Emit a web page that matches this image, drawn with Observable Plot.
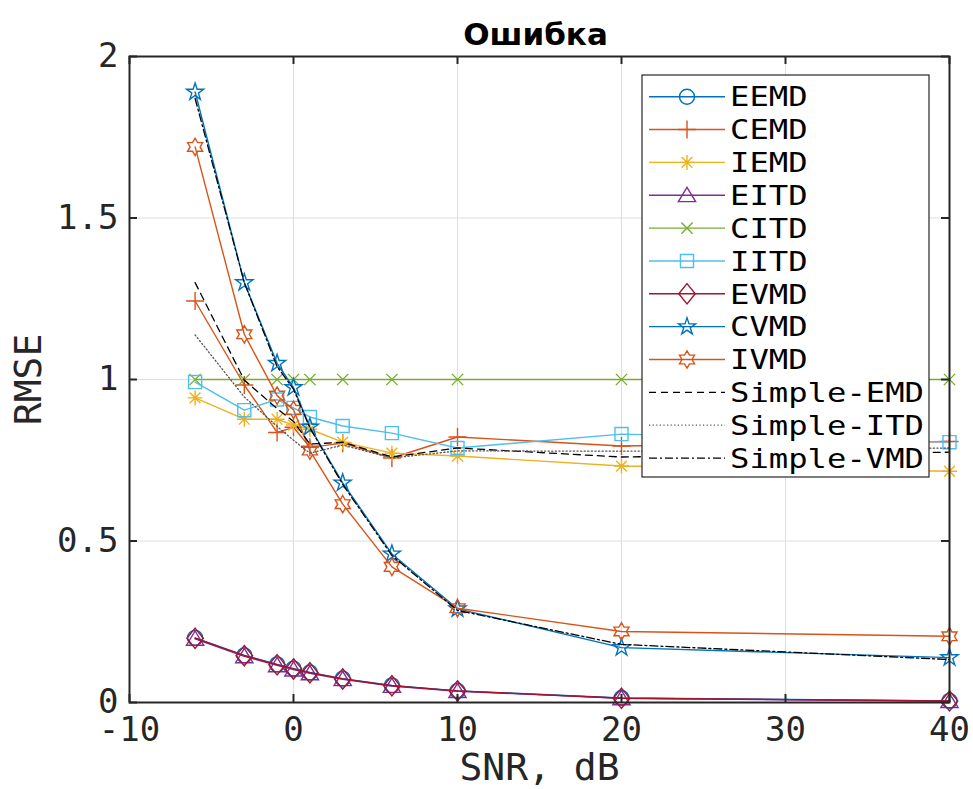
<!DOCTYPE html>
<html>
<head>
<meta charset="utf-8">
<script src="https://cdn.jsdelivr.net/npm/d3@7"></script>
<script src="https://cdn.jsdelivr.net/npm/@observablehq/plot@0.6"></script>
<style>
  html, body { margin: 0; padding: 0; background: #fff; }
  #wrap { position: relative; width: 973px; height: 789px; overflow: hidden; }
  #legend { position: absolute; left: 0; top: 0; }
</style>
</head>
<body>
<div id="wrap"></div>
<script>
// ---- data ----
const snr = [-6, -3, -1, 0, 1, 3, 6, 10, 20, 40];
const EEMD = [0.200, 0.146, 0.118, 0.105, 0.093, 0.074, 0.053, 0.036, 0.014, 0.005];
const CEMD = [1.243, 0.983, 0.836, 0.852, 0.790, 0.803, 0.757, 0.822, 0.794, 0.808];
const IEMD = [0.943, 0.877, 0.877, 0.859, 0.846, 0.806, 0.772, 0.763, 0.732, 0.716];
const EITD = [0.197, 0.143, 0.115, 0.102, 0.090, 0.072, 0.051, 0.035, 0.013, 0.004];
const CITD = [1.0, 1.0, 1.0, 1.0, 1.0, 1.0, 1.0, 1.0, 1.0, 1.0];
const IITD = [0.992, 0.905, 0.938, 0.912, 0.884, 0.856, 0.834, 0.788, 0.831, 0.806];
const EVMD = [0.199, 0.145, 0.117, 0.104, 0.092, 0.073, 0.052, 0.036, 0.013, 0.005];
const CVMD = [1.890, 1.300, 1.050, 0.975, 0.853, 0.680, 0.460, 0.290, 0.170, 0.139];
const IVMD = [1.720, 1.140, 0.950, 0.906, 0.780, 0.614, 0.420, 0.292, 0.220, 0.205];
const SimpleEMD = [1.300, 0.998, 0.910, 0.870, 0.800, 0.806, 0.760, 0.788, 0.760, 0.775];
const SimpleITD = [1.138, 0.946, 0.855, 0.812, 0.772, 0.797, 0.757, 0.779, 0.778, 0.788];
const SimpleVMD = [1.870, 1.300, 1.040, 0.970, 0.850, 0.675, 0.455, 0.285, 0.180, 0.133];

const seriesNames = ["EEMD", "CEMD", "IEMD", "EITD", "CITD", "IITD", "EVMD", "CVMD", "IVMD",
                     "Simple-EMD", "Simple-ITD", "Simple-VMD"];
const seriesValues = [EEMD, CEMD, IEMD, EITD, CITD, IITD, EVMD, CVMD, IVMD, SimpleEMD, SimpleITD, SimpleVMD];

const xTicks = [-10, 0, 10, 20, 30, 40];
const yTicks = [0, 0.5, 1, 1.5, 2];
const yTickLabels = ["0", "0.5", "1", "1.5", "2"];
const titleText = "Ошибка";
const xLabel = "SNR, dB";
const yLabel = "RMSE";

// ---- styles ----
function sym(fn) { return { draw(ctx, size) { const r = Math.sqrt(size / Math.PI); fn(ctx, r); } }; }
function star(ctx, n, R, ri) {
  for (let i = 0; i < 2 * n; i++) {
    const a = -Math.PI / 2 + i * Math.PI / n;
    const rr = i % 2 === 0 ? R : ri;
    const px = rr * Math.cos(a), py = rr * Math.sin(a);
    if (i === 0) ctx.moveTo(px, py); else ctx.lineTo(px, py);
  }
  ctx.closePath();
}
const SYM = {
  circle: sym((c, r) => { c.moveTo(r, 0); c.arc(0, 0, r, 0, 2 * Math.PI); c.closePath(); }),
  plus: sym((c, r) => { const a = r * 1.2; c.moveTo(-a, 0); c.lineTo(a, 0); c.moveTo(0, -a); c.lineTo(0, a); }),
  asterisk: sym((c, r) => { const a = r * 1.0, d = r * 0.72;
    c.moveTo(-a, 0); c.lineTo(a, 0); c.moveTo(0, -a); c.lineTo(0, a);
    c.moveTo(-d, -d); c.lineTo(d, d); c.moveTo(-d, d); c.lineTo(d, -d); }),
  triangle: sym((c, r) => { c.moveTo(0, -r * 1.05); c.lineTo(r * 1.15, r * 0.85); c.lineTo(-r * 1.15, r * 0.85); c.closePath(); }),
  times: sym((c, r) => { const d = r * 0.75; c.moveTo(-d, -d); c.lineTo(d, d); c.moveTo(-d, d); c.lineTo(d, -d); }),
  square: sym((c, r) => { const a = r * 0.87; c.moveTo(-a, -a); c.lineTo(a, -a); c.lineTo(a, a); c.lineTo(-a, a); c.closePath(); }),
  diamond: sym((c, r) => { c.moveTo(0, -r * 1.35); c.lineTo(r * 1.1, 0); c.lineTo(0, r * 1.35); c.lineTo(-r * 1.1, 0); c.closePath(); }),
  pentagram: sym((c, r) => star(c, 5, r * 1.2, r * 1.2 * 0.382)),
  hexagram: sym((c, r) => star(c, 6, r * 1.16, r * 1.16 / Math.sqrt(3)))
};
const seriesStyle = [
  { color: "#0072BD", marker: "circle", dash: null },
  { color: "#D95319", marker: "plus", dash: null },
  { color: "#EDB120", marker: "asterisk", dash: null },
  { color: "#7E2F8E", marker: "triangle", dash: null },
  { color: "#77AC30", marker: "times", dash: null },
  { color: "#4DBEEE", marker: "square", dash: null },
  { color: "#A2142F", marker: "diamond", dash: null },
  { color: "#0072BD", marker: "pentagram", dash: null },
  { color: "#D95319", marker: "hexagram", dash: null },
  { color: "#000000", marker: null, dash: "7,5" },
  { color: "#555555", marker: null, dash: "1.2,2.4" },
  { color: "#000000", marker: null, dash: "8,3,2,3" }
];
const markerR = 7.5;

// ---- table ----
const rows = [];
seriesNames.forEach((name, i) => seriesValues[i].forEach((v, j) => rows.push({ series: name, x: snr[j], y: v })));

const W = 973, H = 789, mL = 129, mR = 24, mT = 56, mB = 87;
const frameW = W - mL - mR, frameH = H - mT - mB;
const axisColor = "#262626";
const mono = "'DejaVu Sans Mono', monospace";

const marks = [
  Plot.gridX(xTicks, { stroke: "#dedede", strokeOpacity: 1, strokeWidth: 1 }),
  Plot.gridY(yTicks, { stroke: "#dedede", strokeOpacity: 1, strokeWidth: 1 })
];
seriesNames.forEach((name, i) => {
  const st = seriesStyle[i];
  const data = rows.filter(d => d.series === name);
  marks.push(Plot.line(data, { x: "x", y: "y", stroke: st.color, strokeWidth: st.marker ? 1.4 : 1.3,
    strokeDasharray: st.dash || undefined }));
  if (st.marker) {
    marks.push(Plot.dot(data, { x: "x", y: "y", symbol: SYM[st.marker], r: markerR, stroke: st.color,
      fill: "none", strokeWidth: 1.4 }));
  }
});
marks.push(
  Plot.frame({ stroke: axisColor, strokeWidth: 2 }),
  Plot.tickX(xTicks, { x: d => d, insetTop: frameH - 8, stroke: axisColor, strokeWidth: 2 }),
  Plot.tickX(xTicks, { x: d => d, insetBottom: frameH - 8, stroke: axisColor, strokeWidth: 2 }),
  Plot.tickY(yTicks, { y: d => d, insetRight: frameW - 8, stroke: axisColor, strokeWidth: 2 }),
  Plot.tickY(yTicks, { y: d => d, insetLeft: frameW - 8, stroke: axisColor, strokeWidth: 2 }),
  Plot.axisX(xTicks, { anchor: "bottom", tickSize: 0, tickPadding: 14, label: null,
    tickFormat: d => String(d), fontSize: 34, fill: axisColor }),
  Plot.axisY(yTicks, { anchor: "left", tickSize: 0, tickPadding: 11, label: null,
    tickFormat: d => yTickLabels[yTicks.indexOf(d)], fontSize: 34, fill: axisColor }),
  Plot.text([titleText], { frameAnchor: "top", lineAnchor: "bottom", dy: -12, dx: -4, fontSize: 31,
    fontWeight: "bold", fontFamily: "'DejaVu Sans', sans-serif", fill: "#000" }),
  Plot.text([xLabel], { frameAnchor: "bottom", textAnchor: "middle", lineAnchor: "middle", dy: 65, fontSize: 38, fill: axisColor }),
  Plot.text([yLabel], { frameAnchor: "left", textAnchor: "middle", lineAnchor: "middle", dx: -101, rotate: -90, fontSize: 38, fill: axisColor })
);

const chart = Plot.plot({
  width: W, height: H,
  marginLeft: mL, marginRight: mR, marginTop: mT, marginBottom: mB,
  x: { domain: [-10, 40], label: null },
  y: { domain: [0, 2], label: null },
  style: { fontFamily: mono, background: "#fff", color: axisColor, overflow: "visible" },
  marks
});
const wrap = document.getElementById("wrap");
wrap.appendChild(chart);

// ---- legend ----
const L = { x: 642, y: 75, w: 287, h: 402, row0: 21.7, rowStep: 32.85, lineX1: 7, lineX2: 83, markX: 45, textX: 88, adv: 19.4, fs: 27 };
const lg = d3.create("svg").attr("id", "legend").attr("width", W).attr("height", H)
  .style("font-family", mono);
const g = lg.append("g").attr("transform", `translate(${L.x},${L.y})`);
g.append("rect").attr("x", 0).attr("y", 0).attr("width", L.w).attr("height", L.h)
  .attr("fill", "#fff").attr("stroke", axisColor).attr("stroke-width", 1.2);
seriesNames.forEach((name, i) => {
  const st = seriesStyle[i];
  const cy = L.row0 + i * L.rowStep;
  g.append("line").attr("x1", L.lineX1).attr("x2", L.lineX2).attr("y1", cy).attr("y2", cy)
    .attr("stroke", st.color).attr("stroke-width", st.marker ? 1.4 : 1.3)
    .attr("stroke-dasharray", st.dash);
  if (st.marker) {
    g.append("path").attr("d", d3.symbol(SYM[st.marker], Math.PI * markerR * markerR)())
      .attr("transform", `translate(${L.markX},${cy})`)
      .attr("fill", "none").attr("stroke", st.color).attr("stroke-width", 1.4);
  }
  g.append("text").attr("x", L.textX).attr("y", cy).attr("dy", "0.36em")
    .attr("font-size", L.fs).attr("fill", "#000")
    .attr("textLength", name.length * L.adv).attr("lengthAdjust", "spacingAndGlyphs")
    .text(name);
});
wrap.appendChild(lg.node());
</script>
</body>
</html>
